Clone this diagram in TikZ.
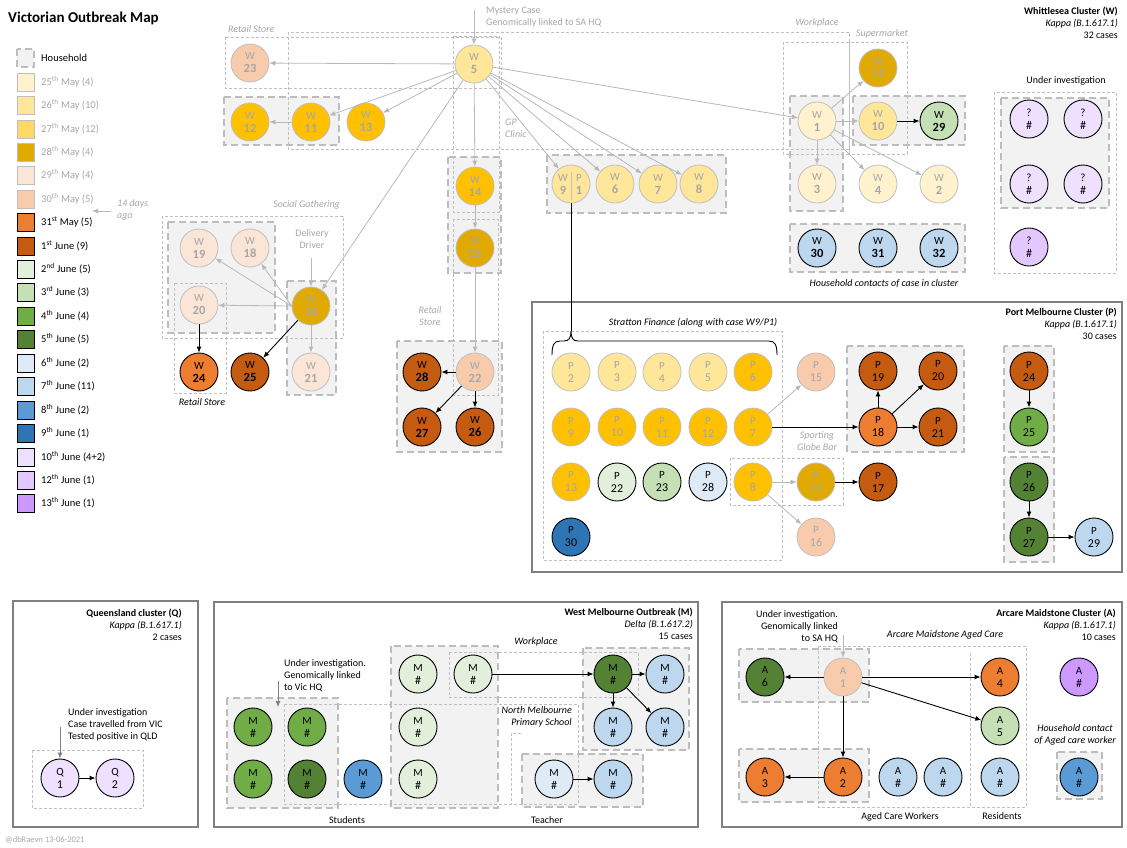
\documentclass[tikz,border=0pt]{standalone}
\usepackage{fontspec}
\setmainfont{Carlito}
\usetikzlibrary{arrows.meta}
\definecolor{c25}{HTML}{FFF2CC}
\definecolor{c26}{HTML}{FFE699}
\definecolor{c27}{HTML}{FFC000}
\definecolor{c27L}{HTML}{FFD966}
\definecolor{c28}{HTML}{E0AA00}
\definecolor{c29}{HTML}{FBE5D6}
\definecolor{c30}{HTML}{F8CBAD}
\definecolor{c31}{HTML}{ED7D31}
\definecolor{c01}{HTML}{C55A11}
\definecolor{c02}{HTML}{E2EFDA}
\definecolor{c03}{HTML}{C5E0B4}
\definecolor{c04}{HTML}{70AD47}
\definecolor{c05}{HTML}{548235}
\definecolor{c06}{HTML}{DEEBF7}
\definecolor{c07}{HTML}{BDD7EE}
\definecolor{c08}{HTML}{5B9BD5}
\definecolor{c09}{HTML}{2E75B6}
\definecolor{c10}{HTML}{F0E0FF}
\definecolor{c12}{HTML}{E3C8FF}
\definecolor{c13}{HTML}{CC99FF}
\definecolor{gB}{HTML}{BFBFBF}
\definecolor{gT}{HTML}{A6A6A6}
\definecolor{gA}{HTML}{B8B8B8}
\definecolor{hhF}{HTML}{F2F2F2}
\definecolor{hhB}{HTML}{BDBDBD}
\definecolor{frC}{HTML}{808080}
\newcommand\Wb[1]{W\\{\fontsize{12.5}{13}\selectfont\bfseries #1}}
\newcommand\Lb[2]{#1\\{\fontsize{12}{13}\selectfont #2}}
\tikzset{
  cas/.style={circle, minimum size=38pt, inner sep=0pt, align=center, font=\fontsize{11}{13}\selectfont},
  may/.style={cas, draw=gB, line width=0.8pt, text=gT},
  jun/.style={cas, draw=black, line width=0.9pt, text=black},
  tbox/.style={draw=gB, line width=0.7pt, dash pattern=on 3pt off 2pt},
  hh/.style={fill=hhF, draw=hhB, line width=2pt, dash pattern=on 7pt off 4pt},
  frm/.style={draw=frC, line width=2pt},
  ga/.style={draw=gA, line width=0.8pt, -{Latex[length=6pt,width=5pt]}},
  ba/.style={draw=black, line width=0.9pt, -{Latex[length=6pt,width=5pt]}},
  lab/.style={font=\fontsize{10}{12}\selectfont, inner sep=0pt},
  glab/.style={lab, text=gT},
  gi/.style={lab, text=gT, font=\fontsize{10}{12}\selectfont\itshape},
  bi/.style={lab, font=\fontsize{10}{12}\selectfont\itshape},
  lsq/.style={minimum width=17pt, minimum height=18pt, inner sep=0pt},
  lsm/.style={lsq, draw=gB, line width=0.8pt},
  lsj/.style={lsq, draw=black, line width=0.9pt},
  lt/.style={font=\fontsize{10.5}{12}\selectfont, inner sep=0pt, anchor=west},
}
\begin{document}
\begin{tikzpicture}[x=1pt,y=-1pt]
\useasboundingbox (0,0) rectangle (1127,847);
% frames
\draw[frm] (532,302) rectangle (1122,572);
\draw[frm] (13,601) rectangle (198,827);
\draw[frm] (214,602) rectangle (698,827);
\draw[frm] (722,602) rectangle (1122,827);
% households
\draw[hh] (17,49) rectangle (34,67);
\draw[hh] (224,97) rectangle (339,145);
\draw[hh] (448,157) rectangle (501,273);
\draw[hh] (397,341) rectangle (502,452);
\draw[hh] (168,222) rectangle (275,333);
\draw[hh] (287,281) rectangle (336,395);
\draw[hh] (547,155) rectangle (726,213);
\draw[hh] (790,96) rectangle (843,211);
\draw[hh] (853,96) rectangle (965,145);
\draw[hh] (790,224) rectangle (965,272);
\draw[hh] (1001,98) rectangle (1109,208);
\draw[hh] (847,346) rectangle (964,452);
\draw[hh] (1004,346) rectangle (1054,452);
\draw[hh] (1004,457) rectangle (1054,562);
\draw[hh] (227,698) rectangle (338,808);
\draw[hh] (391,646) rectangle (498,808);
\draw[hh] (583,648) rectangle (689,750);
\draw[hh] (522,754) rectangle (643,807);
\draw[hh] (739,649) rectangle (869,702);
\draw[hh] (739,749) rectangle (869,802);
\draw[hh] (1057,752) rectangle (1102,799);
% thin boxes
\draw[tbox] (225,37) rectangle (501,88);
\draw[tbox] (453,36) rectangle (499,212);
\draw[tbox] (288,32) rectangle (849,149);
\draw[tbox] (783,42) rectangle (849,154);
\draw[tbox] (849,42) rectangle (907,154);
\draw[tbox] (453,219) rectangle (498,395);
\draw[tbox] (162,216) rectangle (343,338);
\draw[tbox] (174,283) rectangle (226,393);
\draw[tbox] (994,92) rectangle (1116,273);
\draw[tbox] (543,331) rectangle (782,560);
\draw[tbox] (730,458) rectangle (843,505);
\draw[tbox] (32,750) rectangle (143,808);
\draw[tbox] (449,652) rectangle (638,697);
\draw[tbox] (284,704) rectangle (578,804);
\draw[tbox] (521,733) -- (511,733) -- (511,804);
\draw[tbox] (818,646) rectangle (1026,807);
\draw[tbox] (970,653) -- (970,807);

% title and legend
\node[anchor=west, inner sep=0pt, font=\fontsize{15}{17}\selectfont\bfseries] (title) at (8,18) {Victorian Outbreak Map};
\node[lt] (tHH) at (41,58) {Household};
\node[lsm, fill=c25] (l1) at (25.5,82) {};  \node[lt, text=gT] (t1) at (41,82) {25\textsuperscript{th} May (4)};
\node[lsm, fill=c26] (l2) at (25.5,105) {}; \node[lt, text=gT] (t2) at (41,105) {26\textsuperscript{th} May (10)};
\node[lsm, fill=c27L] (l3) at (25.5,129) {}; \node[lt, text=gT] (t3) at (41,129) {27\textsuperscript{th} May (12)};
\node[lsm, fill=c28] (l4) at (25.5,152) {}; \node[lt, text=gT] (t4) at (41,152) {28\textsuperscript{th} May (4)};
\node[lsm, fill=c29] (l5) at (25.5,175) {}; \node[lt, text=gT] (t5) at (41,175) {29\textsuperscript{th} May (4)};
\node[lsm, fill=c30] (l6) at (25.5,199) {}; \node[lt, text=gT] (t6) at (41,199) {30\textsuperscript{th} May (5)};
\node[lsj, fill=c31] (l7) at (25.5,222) {}; \node[lt] (t7) at (41,222) {31\textsuperscript{st} May (5)};
\node[lsj, fill=c01] (l8) at (25.5,246) {}; \node[lt] (t8) at (41,246) {1\textsuperscript{st} June (9)};
\node[lsj, fill=c02] (l9) at (25.5,269) {}; \node[lt] (t9) at (41,269) {2\textsuperscript{nd} June (5)};
\node[lsj, fill=c03] (l10) at (25.5,292) {}; \node[lt] (t10) at (41,292) {3\textsuperscript{rd} June (3)};
\node[lsj, fill=c04] (l11) at (25.5,316) {}; \node[lt] (t11) at (41,316) {4\textsuperscript{th} June (4)};
\node[lsj, fill=c05] (l12) at (25.5,339) {}; \node[lt] (t12) at (41,339) {5\textsuperscript{th} June (5)};
\node[lsj, fill=c06] (l13) at (25.5,363) {}; \node[lt] (t13) at (41,363) {6\textsuperscript{th} June (2)};
\node[lsj, fill=c07] (l14) at (25.5,386) {}; \node[lt] (t14) at (41,386) {7\textsuperscript{th} June (11)};
\node[lsj, fill=c08] (l15) at (25.5,410) {}; \node[lt] (t15) at (41,410) {8\textsuperscript{th} June (2)};
\node[lsj, fill=c09] (l16) at (25.5,433) {}; \node[lt] (t16) at (41,433) {9\textsuperscript{th} June (1)};
\node[lsj, fill=c10] (l17) at (25.5,457) {}; \node[lt] (t17) at (41,457) {10\textsuperscript{th} June (4+2)};
\node[lsj, fill=c12] (l18) at (25.5,480) {}; \node[lt] (t18) at (41,480) {12\textsuperscript{th} June (1)};
\node[lsj, fill=c13] (l19) at (25.5,503) {}; \node[lt] (t19) at (41,503) {13\textsuperscript{th} June (1)};
\node[gi, anchor=north west, align=left] (t14d) at (117,199) {14 days\\ago};
\coordinate (a14s) at (111,211); \coordinate (a14e) at (92,211);
\draw[ga] (a14s) -- (a14e);

% W cluster labels
\node[lab, anchor=north east, align=right] (wcl) at (1118,7) {\textbf{Whittlesea Cluster (W)}\\\textit{Kappa (B.1.617.1)}\\32 cases};
\node[glab, anchor=north west, align=left] (mys) at (486,7) {Mystery Case\\Genomically linked to SA HQ};
\node[gi, anchor=west] (lrs1) at (228,29) {Retail Store};
\node[gi, anchor=north west, align=left] (lgp) at (505,119) {GP\\Clinic};
\node[gi] (lwp) at (817,23) {Workplace};
\node[gi] (lsm) at (882,34) {Supermarket};
\node[gi, anchor=east] (lsg) at (340,205) {Social Gathering};
\node[glab, anchor=north, align=center] (ldd) at (312,229) {Delivery\\Driver};
\node[gi, anchor=north, align=center] (lrs2) at (430,306) {Retail\\Store};
\node[bi] (lrs3) at (202,402) {Retail Store};
\node[bi] (lhc) at (884,284) {Household contacts of case in cluster};
\node[lab] (lui) at (1066,81) {Under investigation};

% W nodes
\node[may, fill=c26] (w5) at (474,64) {\Wb{5}};
\node[may, fill=c30] (w23) at (250,63) {\Wb{23}};
\node[may, fill=c27] (w12) at (250,122) {\Wb{12}};
\node[may, fill=c27] (w11) at (311,122) {\Wb{11}};
\node[may, fill=c27] (w13) at (366,122) {\Wb{13}};
\node[may, fill=c27] (w14) at (475,186) {\Wb{14}};
\node[may, fill=c28] (w15) at (475,248) {\Wb{15}};
\node[may, fill=c30] (w22) at (475,372) {\Wb{22}};
\node[jun, fill=c01] (w28) at (422,372) {\Wb{28}};
\node[jun, fill=c01] (w27) at (422,427) {\Wb{27}};
\node[jun, fill=c01] (w26) at (475,427) {\Wb{26}};
\node[may, fill=c29] (w19) at (199,248) {\Wb{19}};
\node[may, fill=c29] (w18) at (250,248) {\Wb{18}};
\node[may, fill=c29] (w20) at (199,305) {\Wb{20}};
\node[may, fill=c28] (w16) at (311,306) {\Wb{16}};
\node[may, fill=c29] (w21) at (311,372) {\Wb{21}};
\node[jun, fill=c31] (w24) at (199,372) {\Wb{24}};
\node[jun, fill=c01] (w25) at (250,372) {\Wb{25}};
\node[may, fill=c26] (w9) at (571,184) {};
\draw[gB, line width=0.7pt] (571,172) -- (571,200);
\node[cas, text=gT, minimum size=0pt] (w9t) at (563,184) {\Wb{9}};
\node[cas, text=gT, minimum size=0pt] (p1t) at (579,184) {P\\{\fontsize{12.5}{13}\selectfont\bfseries 1}};
\node[may, fill=c26] (w6) at (615,184) {\Wb{6}};
\node[may, fill=c26] (w7) at (658,184) {\Wb{7}};
\node[may, fill=c26] (w8) at (699,184) {\Wb{8}};
\node[may, fill=c25] (w1) at (817,121) {\Wb{1}};
\node[may, fill=c28] (w17) at (878,68) {\Wb{17}};
\node[may, fill=c26] (w10) at (878,121) {\Wb{10}};
\node[jun, fill=c03] (w29) at (939,121) {\Wb{29}};
\node[may, fill=c25] (w3) at (817,184) {\Wb{3}};
\node[may, fill=c25] (w4) at (878,184) {\Wb{4}};
\node[may, fill=c25] (w2) at (939,184) {\Wb{2}};
\node[jun, fill=c07] (w30) at (817,248) {\Wb{30}};
\node[jun, fill=c07] (w31) at (878,248) {\Wb{31}};
\node[jun, fill=c07] (w32) at (939,248) {\Wb{32}};
\node[jun, fill=c10] (u1) at (1029,119) {\Lb{?}{\#}};
\node[jun, fill=c10] (u2) at (1083,119) {\Lb{?}{\#}};
\node[jun, fill=c10] (u3) at (1029,184) {\Lb{?}{\#}};
\node[jun, fill=c10] (u4) at (1083,184) {\Lb{?}{\#}};
\node[jun, fill=c12] (u5) at (1029,247) {\Lb{?}{\#}};

% W edges
\coordinate (mysA) at (474,10);
\coordinate (ddA) at (311,258);
\draw[ga] (mysA) -- (w5);
\draw[ga] (w5) -- (w23);
\draw[ga] (w5) -- (w11);
\draw[ga] (w5) -- (w13);
\draw[ga] (w5) -- (w14);
\draw[ga] (w5) -- (w16);
\draw[ga] (w5) -- (w1);
\draw[ga] (w5) -- (w9);
\draw[ga] (w5) -- (w6);
\draw[ga] (w5) -- (w7);
\draw[ga] (w5) -- (w8);
\draw[ga] (w11) -- (w12);
\draw[ga] (w14) -- (w15);
\draw[ga] (w15) -- (w22);
\draw[ga] (ddA) -- (w16);
\draw[ga] (w16.west) -- (w19);
\draw[ga] (w16.west) -- (w18);
\draw[ga] (w16.west) -- (w20);
\draw[ga] (w16) -- (w21);
\draw[ba] (w16) -- (w25);
\draw[ba] (w20) -- (w24);
\draw[ba] (w22) -- (w28);
\draw[ba] (w22) -- (w27);
\draw[ba] (w22) -- (w26);
\draw[ga] (w1) -- (w17);
\draw[ga] (w1) -- (w10);
\draw[ga] (w1) -- (w3);
\draw[ga] (w1) -- (w4);
\draw[ga] (w1) -- (w2);
\draw[ba] (w10) -- (w29);

% brace to Stratton
\coordinate (btip) at (571,331);
\draw[black, line width=0.9pt] (w9.south) -- (btip);
\draw[black, line width=0.9pt] (552,355) .. controls (552,345) and (554,341) .. (560,341) -- (564,341) .. controls (569,341) and (571,338) .. (btip) .. controls (571,338) and (573,341) .. (578,341) -- (769,341) .. controls (775,341) and (777,345) .. (777,355);

% P cluster
\node[lab, anchor=north east, align=right] (pcl) at (1117,308) {\textbf{Port Melbourne Cluster (P)}\\\textit{Kappa (B.1.617.1)}\\30 cases};
\node[bi] (lsf) at (693,323) {Stratton Finance (along with case W9/P1)};
\node[gi, anchor=north, align=center] (lsgb) at (817,431) {Sporting\\Globe Bar};
\node[may, fill=c26] (p2) at (571,372) {\Lb{P}{2}};
\node[may, fill=c26] (p3) at (617,372) {\Lb{P}{3}};
\node[may, fill=c26] (p4) at (662,372) {\Lb{P}{4}};
\node[may, fill=c26] (p5) at (708,372) {\Lb{P}{5}};
\node[may, fill=c27] (p6) at (753,372) {\Lb{P}{6}};
\node[may, fill=c27] (p9) at (571,427) {\Lb{P}{9}};
\node[may, fill=c27] (p10) at (617,427) {\Lb{P}{10}};
\node[may, fill=c27] (p11) at (662,427) {\Lb{P}{11}};
\node[may, fill=c27] (p12) at (708,427) {\Lb{P}{12}};
\node[may, fill=c27] (p7) at (753,427) {\Lb{P}{7}};
\node[may, fill=c27] (p13) at (571,482) {\Lb{P}{13}};
\node[jun, fill=c02] (p22) at (617,482) {\Lb{P}{22}};
\node[jun, fill=c03] (p23) at (662,482) {\Lb{P}{23}};
\node[jun, fill=c06] (p28) at (708,482) {\Lb{P}{28}};
\node[may, fill=c27] (p8) at (753,482) {\Lb{P}{8}};
\node[jun, fill=c09] (p30) at (571,537) {\Lb{P}{30}};
\node[may, fill=c30] (p15) at (816,372) {\Lb{P}{15}};
\node[may, fill=c28] (p14) at (816,482) {\Lb{P}{14}};
\node[may, fill=c30] (p16) at (816,537) {\Lb{P}{16}};
\node[jun, fill=c01] (p19) at (878,371) {\Lb{P}{19}};
\node[jun, fill=c01] (p20) at (938,371) {\Lb{P}{20}};
\node[jun, fill=c31] (p18) at (878,427) {\Lb{P}{18}};
\node[jun, fill=c01] (p21) at (938,427) {\Lb{P}{21}};
\node[jun, fill=c01] (p17) at (878,482) {\Lb{P}{17}};
\node[jun, fill=c01] (p24) at (1029,371) {\Lb{P}{24}};
\node[jun, fill=c04] (p25) at (1029,427) {\Lb{P}{25}};
\node[jun, fill=c05] (p26) at (1029,482) {\Lb{P}{26}};
\node[jun, fill=c05] (p27) at (1029,537) {\Lb{P}{27}};
\node[jun, fill=c07] (p29) at (1094,537) {\Lb{P}{29}};
\draw[ga] (p7) -- (p15);
\draw[ba] (p7) -- (p18);
\draw[ga] (p8) -- (p14);
\draw[ga] (p8) -- (p16);
\draw[ba] (p14) -- (p17);
\draw[ba] (p18) -- (p19);
\draw[ba] (p18) -- (p20);
\draw[ba] (p18) -- (p21);
\draw[ba] (p24) -- (p25);
\draw[ba] (p26) -- (p27);
\draw[ba] (p27) -- (p29);

% Q cluster
\node[lab, anchor=north east, align=right] (qcl) at (182,609) {\textbf{Queensland cluster (Q)}\\\textit{Kappa (B.1.617.1)}\\2 cases};
\node[lab, anchor=north west, align=left] (qui) at (68,708) {Under investigation\\Case travelled from VIC\\Tested positive in QLD};
\node[jun, fill=c10] (q1) at (60,778) {\Lb{Q}{1}};
\node[jun, fill=c10] (q2) at (115,778) {\Lb{Q}{2}};
\coordinate (qA) at (60,727);
\draw[ga, draw=frC] (qA) -- (q1);
\draw[ba] (q1) -- (q2);

% M cluster
\node[lab, anchor=north east, align=right] (mcl) at (693,608) {\textbf{West Melbourne Outbreak (M)}\\\textit{Delta (B.1.617.2)}\\15 cases};
\node[lab, anchor=north west, align=left] (mui) at (284,659) {Under investigation.\\Genomically linked\\to Vic HQ};
\node[bi] (lwpm) at (536,642) {Workplace};
\node[bi, anchor=north east, align=right] (lnm) at (572,706) {North Melbourne\\Primary School};
\node[lab] (lst) at (347,820) {Students};
\node[lab] (lte) at (547,820) {Teacher};
\node[jun, fill=c02] (ma) at (418,674) {\Lb{M}{\#}};
\node[jun, fill=c02] (mb) at (473,674) {\Lb{M}{\#}};
\node[jun, fill=c05] (mc) at (613,674) {\Lb{M}{\#}};
\node[jun, fill=c07] (md) at (665,674) {\Lb{M}{\#}};
\node[jun, fill=c07] (me) at (613,727) {\Lb{M}{\#}};
\node[jun, fill=c07] (mf) at (665,727) {\Lb{M}{\#}};
\node[jun, fill=c04] (mg) at (253,727) {\Lb{M}{\#}};
\node[jun, fill=c04] (mh) at (307,727) {\Lb{M}{\#}};
\node[jun, fill=c02] (mi) at (418,727) {\Lb{M}{\#}};
\node[jun, fill=c04] (mj) at (253,779) {\Lb{M}{\#}};
\node[jun, fill=c05] (mk) at (307,779) {\Lb{M}{\#}};
\node[jun, fill=c08] (ml) at (363,779) {\Lb{M}{\#}};
\node[jun, fill=c02] (mm) at (418,779) {\Lb{M}{\#}};
\node[jun, fill=c06] (mn) at (554,779) {\Lb{M}{\#}};
\node[jun, fill=c07] (mo) at (613,779) {\Lb{M}{\#}};
\coordinate (muiA) at (278,681); \coordinate (muiB) at (278,707);
\draw[ga, draw=frC] (muiA) -- (muiB);
\draw[ba] (mb) -- (mc);
\draw[ba] (mc) -- (md);
\draw[ba] (mc) -- (me);
\draw[ba] (mc) -- (mf);
\draw[ba] (mn) -- (mo);

% A cluster
\node[lab, anchor=north east, align=right] (acl) at (1116,609) {\textbf{Arcare Maidstone Cluster (A)}\\\textit{Kappa (B.1.617.1)}\\10 cases};
\node[lab, anchor=north east, align=right] (aui) at (838,610) {Under investigation.\\Genomically linked\\to SA HQ};
\node[bi] (lam) at (945,635) {Arcare Maidstone Aged Care};
\node[bi, anchor=north, align=center] (lhca) at (1075,724) {Household contact\\of Aged care worker};
\node[lab] (lacw) at (900,817) {Aged Care Workers};
\node[lab] (lres) at (1002,816) {Residents};
\node[may, fill=c30] (a1) at (843,677) {\Lb{A}{1}};
\node[jun, fill=c05] (a6) at (765,677) {\Lb{A}{6}};
\node[jun, fill=c31] (a4) at (1000,677) {\Lb{A}{4}};
\node[jun, fill=c03] (a5) at (1000,726) {\Lb{A}{5}};
\node[jun, fill=c31] (a2) at (843,777) {\Lb{A}{2}};
\node[jun, fill=c31] (a3) at (765,777) {\Lb{A}{3}};
\node[jun, fill=c07] (ax1) at (898,777) {\Lb{A}{\#}};
\node[jun, fill=c07] (ax2) at (943,777) {\Lb{A}{\#}};
\node[jun, fill=c07] (ax3) at (1000,777) {\Lb{A}{\#}};
\node[jun, fill=c13] (ap) at (1079,677) {\Lb{A}{\#}};
\node[jun, fill=c08] (ah) at (1079,777) {\Lb{A}{\#}};
\coordinate (auiA) at (843,635);
\draw[ga] (auiA) -- (a1);
\draw[ba] (a1) -- (a6);
\draw[ba] (a1) -- (a4);
\draw[ba] (a1) -- (a5);
\draw[ba] (a1) -- (a2);
\draw[ba] (a2) -- (a3);

\node[anchor=west, inner sep=0pt, text=gT, font=\fontsize{8.5}{10}\selectfont] (foot) at (5,840) {@dbRaevn 13-06-2021};
\end{tikzpicture}
\end{document}
